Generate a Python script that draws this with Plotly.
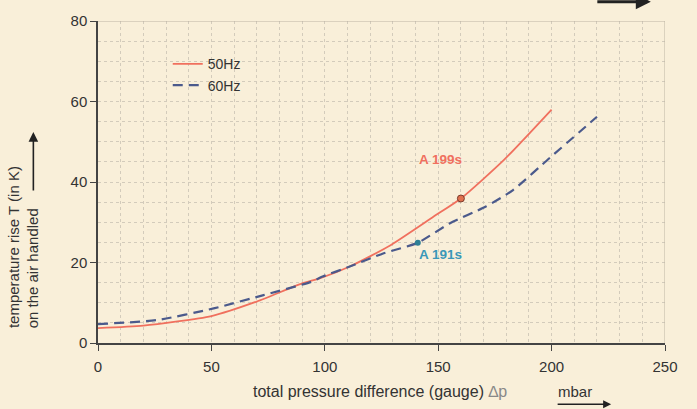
import plotly.graph_objects as go

# Data
x50 = [0, 20, 50, 70, 90, 98, 111, 129, 148, 160, 179, 200]
y50 = [3.7, 4.3, 6.7, 10.3, 14.8, 16.1, 19.0, 24.3, 31.4, 35.9, 45.5, 58.0]
x60 = [0, 26, 51, 73, 94, 99, 111, 126, 141, 155, 171, 183, 199, 220]
y60 = [4.7, 5.7, 8.6, 11.9, 15.2, 16.5, 19.0, 22.3, 24.9, 29.7, 33.9, 38.0, 45.9, 56.2]
mark50 = (160, 35.9)
mark60 = (141, 24.9)
x_ticks = [0, 50, 100, 150, 200, 250]
y_ticks = [0, 20, 40, 60, 80]

BG = "#f9efd9"
FONT = "Liberation Sans, Arial, sans-serif"
RED = "#f0705e"
NAVY = "#4b5a8c"
TEAL = "#3a98b8"
DARK = "#333333"
GRID = "#d3cbbb"

fig = go.Figure()
fig.add_trace(go.Scatter(x=x50, y=y50, mode="lines", name="50Hz",
                         line=dict(color=RED, width=1.8, shape="spline", smoothing=0.6)))
fig.add_trace(go.Scatter(x=x60, y=y60, mode="lines", name="60Hz",
                         line=dict(color=NAVY, width=2.2, dash="10px,6px", shape="spline", smoothing=0.6)))
fig.add_trace(go.Scatter(x=[mark50[0]], y=[mark50[1]], mode="markers", showlegend=False,
                         marker=dict(size=7, color="#e0704e", line=dict(color="#7a3a2a", width=1))))
fig.add_trace(go.Scatter(x=[mark60[0]], y=[mark60[1]], mode="markers", showlegend=False,
                         marker=dict(size=6, color="#2e7f96")))

fig.add_annotation(x=151.2, y=45.5, text="<b>A 199s</b>", showarrow=False,
                   font=dict(family=FONT, size=13.5, color=RED))
fig.add_annotation(x=150.8, y=21.9, text="<b>A 191s</b>", showarrow=False,
                   font=dict(family=FONT, size=13.5, color=TEAL))

# y-axis title (two rotated lines) and arrow
fig.add_annotation(xref="paper", yref="paper", x=-0.150, y=0.040, xanchor="center", yanchor="bottom",
                   text="temperature rise T (in K)", textangle=-90, showarrow=False,
                   font=dict(family=FONT, size=15, color=DARK))
fig.add_annotation(xref="paper", yref="paper", x=-0.116, y=0.040, xanchor="center", yanchor="bottom",
                   text="on the air handled", textangle=-90, showarrow=False,
                   font=dict(family=FONT, size=15, color=DARK))
fig.add_annotation(xref="paper", yref="paper", x=-0.114, y=0.655, ax=0, ay=60,
                   text="", showarrow=True, arrowhead=2, arrowsize=1.2, arrowwidth=1.6, arrowcolor="#222")

# x-axis title, unit and arrows
fig.add_annotation(xref="paper", yref="paper", x=0.270, y=-0.150, xanchor="left", yanchor="middle",
                   text="total pressure difference (gauge) <span style='color:#888'>∆p</span>",
                   showarrow=False, font=dict(family=FONT, size=16, color=DARK))
fig.add_annotation(xref="paper", yref="paper", x=0.808, y=-0.150, xanchor="left", yanchor="middle",
                   text="mbar", showarrow=False, font=dict(family=FONT, size=15, color=DARK))
fig.add_annotation(xref="paper", yref="paper", x=0.905, y=-0.19, ax=-55, ay=0,
                   text="", showarrow=True, arrowhead=2, arrowsize=1, arrowwidth=1.6, arrowcolor="#222")
fig.add_annotation(xref="paper", yref="paper", x=0.975, y=1.06, ax=-55, ay=0,
                   text="", showarrow=True, arrowhead=2, arrowsize=1, arrowwidth=3, arrowcolor="#222")

fig.update_layout(
    width=697, height=409,
    margin=dict(l=98, r=32, t=21, b=66),
    paper_bgcolor=BG, plot_bgcolor=BG,
    font=dict(family=FONT, color=DARK),
    showlegend=True,
    legend=dict(x=0.123, y=0.915, xanchor="left", yanchor="top", bgcolor="rgba(0,0,0,0)",
                font=dict(family=FONT, size=14, color=DARK), tracegroupgap=0, itemwidth=30),
)
fig.update_xaxes(range=[0, 250], tickvals=x_ticks, ticktext=[str(v) for v in x_ticks],
                 showline=True, linecolor="#444", linewidth=1.5, mirror=False,
                 ticks="outside", ticklen=6, tickcolor="#444", tickwidth=1.2,
                 ticklabelstandoff=3,
                 tickfont=dict(family=FONT, size=15, color=DARK),
                 showgrid=True, gridcolor=GRID, gridwidth=1, griddash="dot",
                 minor=dict(dtick=10, showgrid=True, gridcolor=GRID, griddash="dot", ticks=""),
                 zeroline=False, fixedrange=True)
fig.update_yaxes(range=[0, 80], tickvals=y_ticks, ticktext=[str(v) for v in y_ticks],
                 showline=True, linecolor="#444", linewidth=1.5,
                 ticks="outside", ticklen=6, tickcolor="#444", tickwidth=1.2,
                 tickfont=dict(family=FONT, size=15, color=DARK),
                 showgrid=True, gridcolor=GRID, gridwidth=1, griddash="dot",
                 minor=dict(dtick=5, showgrid=True, gridcolor=GRID, griddash="dot", ticks=""),
                 zeroline=False, fixedrange=True)
# right and top border of the grid
fig.add_shape(type="line", xref="x", yref="paper", x0=250, x1=250, y0=0, y1=1,
              line=dict(color="#bdb4a3", width=1))
fig.add_shape(type="line", xref="paper", yref="y", x0=0, x1=1, y0=80, y1=80,
              line=dict(color="#bdb4a3", width=1))

fig.write_html("out.html")
